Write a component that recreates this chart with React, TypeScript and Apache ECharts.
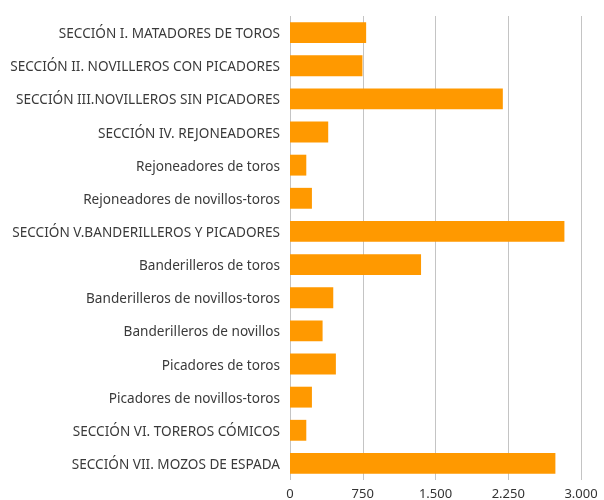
import React, { useEffect, useRef } from "react";
import * as echarts from "echarts";

const categories = [
  "SECCIÓN I. MATADORES DE TOROS",
  "SECCIÓN II. NOVILLEROS CON PICADORES",
  "SECCIÓN III.NOVILLEROS SIN PICADORES",
  "SECCIÓN IV. REJONEADORES",
  "Rejoneadores de toros",
  "Rejoneadores de novillos-toros",
  "SECCIÓN V.BANDERILLEROS Y PICADORES",
  "Banderilleros de toros",
  "Banderilleros de novillos-toros",
  "Banderilleros de novillos",
  "Picadores de toros",
  "Picadores de novillos-toros",
  "SECCIÓN VI. TOREROS CÓMICOS",
  "SECCIÓN VII. MOZOS DE ESPADA",
];

const values = [785, 747, 2194, 394, 168, 226, 2829, 1351, 446, 336, 473, 226, 168, 2736];

const xTicks = { min: 0, max: 3000, interval: 750 };

const fmt = (v: number) => String(v).replace(/\B(?=(\d{3})+(?!\d))/g, ".");

export default function App() {
  const ref = useRef<HTMLDivElement>(null);
  useEffect(() => {
    if (!ref.current) return;
    const chart = echarts.init(ref.current, undefined, { renderer: "svg" });
    chart.setOption({
      animation: false,
      textStyle: { fontFamily: "Noto Sans" },
      grid: { left: 290, top: 16, right: 23, bottom: 20, containLabel: false },
      xAxis: {
        type: "value",
        min: xTicks.min,
        max: xTicks.max,
        interval: xTicks.interval,
        axisLine: { show: false },
        axisTick: { show: false },
        axisLabel: { color: "#333", fontSize: 13, margin: 6, formatter: (v: number) => fmt(v) },
        splitLine: { show: true, lineStyle: { color: "#c4c4c4", width: 1 } },
      },
      yAxis: {
        type: "category",
        inverse: true,
        data: categories,
        axisLine: { show: false },
        axisTick: { show: false },
        axisLabel: { color: "#3a3a3a", fontSize: 13.6, margin: 10 },
      },
      series: [
        {
          type: "bar",
          data: values,
          barCategoryGap: "37%",
          itemStyle: { color: "#ff9900" },
        },
      ],
    });
    return () => chart.dispose();
  }, []);
  return <div ref={ref} style={{ position: "fixed", left: 0, top: 0, width: 604, height: 500 }} />;
}
